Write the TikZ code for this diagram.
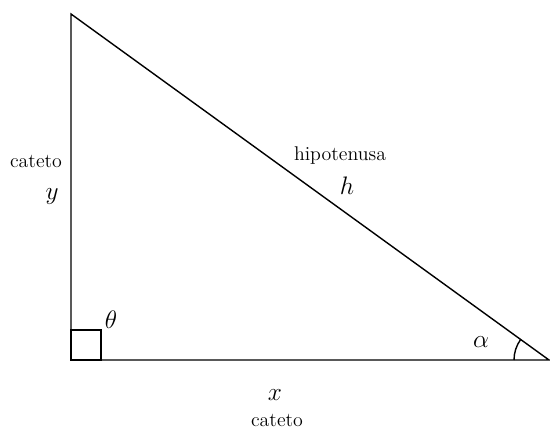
\documentclass[tikz,border=0pt]{standalone}
\usepackage{amsmath,amssymb}
\usepackage{tikz}
\usetikzlibrary{calc}

\tikzset{
    leg/.style={line width=0.8pt},
    lbl/.style={inner sep=0pt, font=\fontsize{11.3}{13}\selectfont},
    mlbl/.style={inner sep=0pt, font=\fontsize{14.4}{16}\selectfont},
}

\begin{document}
\begin{tikzpicture}
            \useasboundingbox (0,0) rectangle (11,8.6);
            % vertices
            \coordinate (top) at (1.42,8.32);
            \coordinate (corner) at (1.42,1.40);
            \coordinate (right) at (10.98,1.40);

            \draw[leg] (top) -- (corner) -- (right) -- cycle;
            \draw[leg] (corner) rectangle ++(0.6,0.6);
            \draw[leg] ([shift={(180:0.7)}]right) arc (180:144.1:0.7);

            % labels
            \node[lbl] (catetoy) at (0.72,5.38) {cateto};
            \node[mlbl] (ly) at (1.04,4.66) {$y$};
            \node[lbl] (hipo) at (6.8,5.48) {hipotenusa};
            \node[mlbl] (lh) at (6.94,4.88) {$h$};
            \node[mlbl] (ltheta) at (2.22,2.2) {$\theta$};
            \node[mlbl] (lalpha) at (9.62,1.76) {$\alpha$};
            \node[mlbl] (lx) at (5.5,0.70) {$x$};
            \node[lbl, anchor=base] (catetox) at (5.54,0.07) {cateto};
        \end{tikzpicture}
\end{document}
